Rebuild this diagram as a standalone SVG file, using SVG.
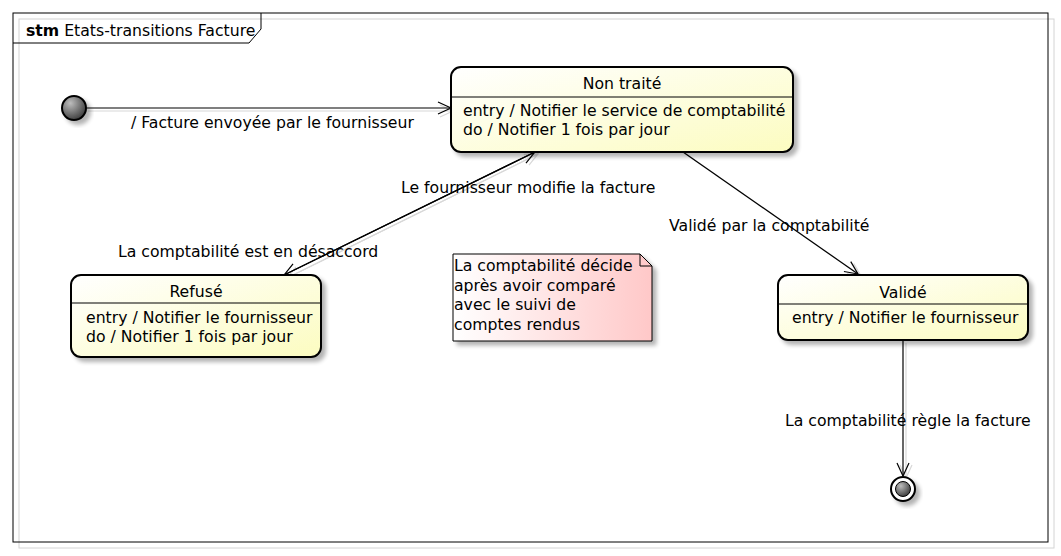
<svg xmlns="http://www.w3.org/2000/svg" width="1061" height="556" viewBox="0 0 1061 556">
<defs>
<linearGradient id="gState" x1="0" y1="0" x2="1" y2="1">
<stop offset="0" stop-color="#ffffff"/>
<stop offset="1" stop-color="#fcfcc0"/>
</linearGradient>
<linearGradient id="gNote" x1="0" y1="0" x2="1" y2="0">
<stop offset="0" stop-color="#ffffff"/>
<stop offset="1" stop-color="#ffc8c8"/>
</linearGradient>
<radialGradient id="gDot" cx="0.35" cy="0.3" r="0.75">
<stop offset="0" stop-color="#bdbdbd"/>
<stop offset="1" stop-color="#3a3a3a"/>
</radialGradient>
<filter id="sh" x="-20%" y="-20%" width="150%" height="150%">
<feGaussianBlur in="SourceAlpha" stdDeviation="2"/>
<feOffset dx="4" dy="4" result="b"/>
<feComponentTransfer><feFuncA type="linear" slope="0.3"/></feComponentTransfer>
<feMerge><feMergeNode/><feMergeNode in="SourceGraphic"/></feMerge>
</filter>
<marker id="arr" markerWidth="16" markerHeight="14" refX="14" refY="7" orient="auto" markerUnits="userSpaceOnUse">
<path d="M1,1 L14,7 L1,13" fill="none" stroke="#000" stroke-width="1.2"/>
</marker>
<marker id="arrS" markerWidth="16" markerHeight="14" refX="14" refY="7" orient="auto" markerUnits="userSpaceOnUse">
<path d="M1,1 L14,7 L1,13" fill="none" stroke="#d8d8d8" stroke-width="1.2"/>
</marker>
</defs>
<style>
text{font-family:"DejaVu Sans","Liberation Sans",sans-serif;font-size:15.7px;fill:#000}
.st{fill:url(#gState);stroke:#000;stroke-width:2}
.div{stroke:#000;stroke-width:1}
.c{fill:none;stroke:#000;stroke-width:1.2;marker-end:url(#arr)}
.cs{fill:none;stroke:#d8d8d8;stroke-width:1.2;marker-end:url(#arrS)}
.mid{text-anchor:middle}
</style>
<rect width="1061" height="556" fill="#fff"/>
<g id="frame">
<rect x="19" y="19" width="1035" height="529" fill="none" stroke="#d4d4d4" stroke-width="1"/>
<rect x="13" y="13" width="1035" height="529" fill="none" stroke="#000" stroke-width="1"/>
<path d="M13,43 L249,43 L261,29 L261,13" fill="none" stroke="#000" stroke-width="1"/>
<text x="26" y="36"><tspan font-weight="bold">stm</tspan> Etats-transitions Facture</text>
</g>
<g id="connectors">
<path class="cs" d="M88,111 L453,111"/>
<path class="c" d="M87,108 L451,108"/>
<path class="cs" d="M538,154 L287,278"/>
<path class="cs" d="M287,278 L538,154"/>
<path class="c" d="M535,152 L284,275"/>
<path class="c" d="M284,275 L535,152"/>
<path class="cs" d="M686,154 L861,276"/>
<path class="c" d="M683,152 L858,274"/>
<path class="cs" d="M906,343 L906,478"/>
<path class="c" d="M903,341 L903,476"/>
<text x="131" y="128">/ Facture envoyée par le fournisseur</text>
<text x="401" y="193">Le fournisseur modifie la facture</text>
<text x="118" y="257">La comptabilité est en désaccord</text>
<text x="669" y="231">Validé par la comptabilité</text>
<text x="785" y="426">La comptabilité règle la facture</text>
</g>
<g id="initial">
<circle cx="74" cy="108" r="12" fill="url(#gDot)" stroke="#000" stroke-width="2" filter="url(#sh)"/>
</g>
<g id="nontraite">
<rect class="st" x="451" y="67" width="342" height="85" rx="10" filter="url(#sh)"/>
<line class="div" x1="451" y1="97" x2="793" y2="97"/>
<text class="mid" x="622" y="89">Non traité</text>
<text x="463" y="116">entry / Notifier le service de comptabilité</text>
<text x="463" y="135">do / Notifier 1 fois par jour</text>
</g>
<g id="refuse">
<rect class="st" x="71" y="275" width="250" height="82" rx="10" filter="url(#sh)"/>
<line class="div" x1="71" y1="303" x2="321" y2="303"/>
<text class="mid" x="196" y="297">Refusé</text>
<text x="86" y="323">entry / Notifier le fournisseur</text>
<text x="86" y="342">do / Notifier 1 fois par jour</text>
</g>
<g id="valide">
<rect class="st" x="778" y="275" width="250" height="65" rx="10" filter="url(#sh)"/>
<line class="div" x1="778" y1="304" x2="1028" y2="304"/>
<text class="mid" x="903" y="298">Validé</text>
<text x="792" y="323">entry / Notifier le fournisseur</text>
</g>
<g id="note">
<path d="M453,254 L640,254 L652,266 L652,341 L453,341 Z" fill="url(#gNote)" stroke="#000" stroke-width="1" filter="url(#sh)"/>
<path d="M640,254 L640,266 L652,266" fill="none" stroke="#000" stroke-width="1"/>
<text x="454" y="271">La comptabilité décide</text>
<text x="454" y="291">après avoir comparé</text>
<text x="454" y="310">avec le suivi de</text>
<text x="454" y="330">comptes rendus</text>
</g>
<g id="final">
<circle cx="903" cy="489" r="12" fill="#fff" stroke="#000" stroke-width="2" filter="url(#sh)"/>
<circle cx="903" cy="489" r="7.5" fill="url(#gDot)" stroke="#000" stroke-width="1"/>
</g>
</svg>
